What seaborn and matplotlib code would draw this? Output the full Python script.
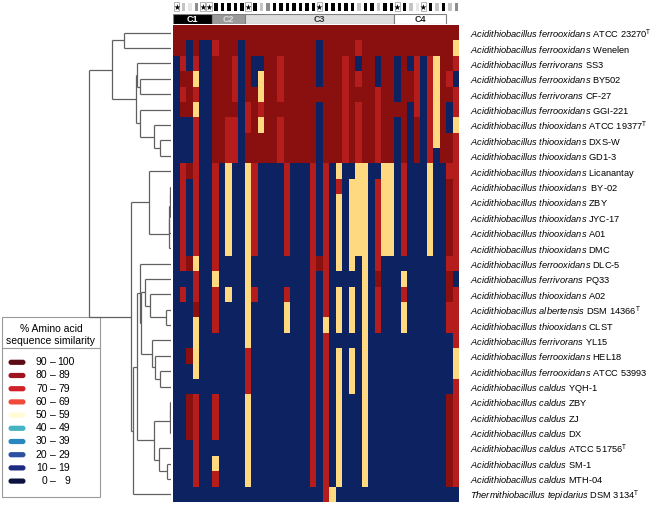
import numpy as np
import pandas as pd
import matplotlib
matplotlib.use("Agg")
import matplotlib.pyplot as plt
import seaborn as sns
from matplotlib.colors import ListedColormap, BoundaryNorm
from matplotlib.patches import Rectangle, FancyBboxPatch

# ---------------- data ----------------
species = (["Acidithiobacillus ferrooxidans"] * 2 +
           ["Acidithiobacillus ferrivorans", "Acidithiobacillus ferrooxidans",
            "Acidithiobacillus ferrivorans", "Acidithiobacillus ferrooxidans"] +
           ["Acidithiobacillus thiooxidans"] * 9 +
           ["Acidithiobacillus ferrooxidans", "Acidithiobacillus ferrivorans",
            "Acidithiobacillus thiooxidans", "Acidithiobacillus albertensis",
            "Acidithiobacillus thiooxidans", "Acidithiobacillus ferrivorans",
            "Acidithiobacillus ferrooxidans", "Acidithiobacillus ferrooxidans"] +
           ["Acidithiobacillus caldus"] * 7 +
           ["Thermithiobacillus tepidarius"])
strains = ["ATCC 23270", "Wenelen", "SS3", "BY502", "CF-27", "GGI-221",
           "ATCC 19377", "DXS-W", "GD1-3", "Licanantay", " BY-02", "ZBY",
           "JYC-17", "A01", "DMC", "DLC-5", "PQ33", "A02", "DSM 14366", "CLST",
           "YL15", "HEL18", "ATCC 53993", "YQH-1", "ZBY", "ZJ", "DX",
           "ATCC 51756", "SM-1", "MTH-04", "DSM 3134"]
type_strain = [1, 0, 0, 0, 0, 0, 1, 0, 0, 0, 0, 0, 0, 0, 0, 0, 0, 0, 1, 0,
               0, 0, 0, 0, 0, 0, 0, 1, 0, 0, 1]

# similarity class per protein column (rows top->bottom); D=90-100, R=80-89, Y=50-59, B=10-19
column_codes = [
    "DD" + "B" * 29,
    "DDRDRD" + "BBB" + "RRRRRRR" + "B" + "R" + "B" * 13,
    "DBBDDD" + "BBB" + "D" + "BBBBB" + "D" + "BBBBB" + "D" + "BB" + "DDD" + "BBBB",
    "DDRYRY" + "R" * 9 + "Y" + "RR" + "D" + "YYYY" + "B" + "R" * 6 + "B",
    "D" + "B" * 30,
    "D" + "B" * 30,
    "DR" + "D" * 7 + "R" * 7 + "Y" + "RRR" + "BBBB" + "RRR" + "B" + "Y" + "R" + "B",
    "D" * 9 + "B" * 22,
    "D" * 6 + "RRR" + "Y" * 6 + "BB" + "Y" + "B" * 13,
    "DD" + "RRR" + "D" + "RRR" + "B" * 22,
    "D" + "B" * 30,
    "D" * 5 + "RR" + "DD" + "Y" * 12 + "RRR" + "Y" * 6 + "B",
    "DD" + "BB" + "D" * 5 + "R" * 6 + "BB" + "R" + "B" * 13,
    "DD" + "B" + "YY" + "R" + "Y" + "DD" + "B" * 22,
    "D" * 9 + "B" * 22,
    "D" * 9 + "B" * 22,
    "DD" + "RRR" + "D" + "RRR" + "B" * 22,
    "D" * 9 + "R" * 6 + "BB" + "R" + "YY" + "B" * 11,
    "D" * 9 + "B" * 22,
    "D" * 9 + "B" * 22,
    "D" * 9 + "B" * 22,
    "D" * 9 + "R" * 21 + "B",
    "D" + "BBB" + "D" + "B" * 10 + "D" + "B" * 15,
    "D" * 9 + "R" * 10 + "Y" + "R" * 11,
    "D" * 9 + "B" * 21 + "Y",
    "D" * 9 + "Y" + "R" + "YYYYY" + "B" + "YYY" + "B" + "Y" * 9 + "B",
    "DD" + "R" * 7 + "B" * 22,
    "D" * 9 + "B" + "Y" * 6 + "B" + "YYY" + "B" + "YYY" + "B" * 7,
    "DRBRD" + "RRRR" + "Y" * 6 + "B" * 16,
    "D" * 9 + "Y" * 21 + "B",
    "D" * 9 + "B" * 22,
    "DD" + "BB" + "R" * 5 + "B" + "R" * 6 + "D" + "RRR" + "B" * 11,
    "D" * 9 + "Y" * 6 + "B" * 16,
    "D" * 9 + "Y" * 6 + "B" * 16,
    "DD" + "BBB" + "D" + "BBB" + "B" * 22,
    "D" * 9 + "R" * 6 + "B" + "Y" + "R" + "YY" + "B" * 11,
    "DD" + "B" + "DD" + "BBBB" + "B" * 22,
    "DD" + "RRRR" + "DDD" + "B" * 22,
    "DD" + "B" * 29,
    "DD" + "R" * 7 + "Y" * 6 + "B" * 16,
    "DD" + "Y" * 6 + "B" + "B" * 22,
    "D" * 9 + "B" * 22,
    "DDDRD" + "BB" + "DD" + "R" + "D" * 5 + "R" + "DD" + "RR" + "BBBB" + "D" * 6 + "B",
    "DYRB" + "RR" + "Y" + "R" * 9 + "B" + "RRRR" + "YY" + "R" * 7 + "B",
]
code_value = {"D": 95, "R": 85, "Y": 55, "B": 15}

# top strip above the columns (S = star)
strip_codes = "SLWGSS" + "KKKKK" + "S" + "K" + "LG" + "KKKKKKK" + "S" + "KKKKK" + "L" + "KK" + "L" + "KK" + "S" + "K" + "LW" + "S" + "K" + "L" + "K" + "LG"
groups = ["C1", "C2", "C3", "C4"]
group_start = [0, 6, 11, 34]
group_end = [6, 11, 34, 42]

# dendrogram merges: (name, child_a, child_b, height)
tree_merges = [
    ("A", 0, 1, 0.467),
    ("s78", 7, 8, 0.107),
    ("s678", 6, "s78", 0.167),
    ("s5678", 5, "s678", 0.307),
    ("s34", 3, 4, 0.307),
    ("s234", 2, "s34", 0.34),
    ("s2_8", "s234", "s5678", 0.35),
    ("TOP", "A", "s2_8", 0.59),
    ("p10_11", 10, 11, 0.012),
    ("p10_12", "p10_11", 12, 0.014),
    ("p10_13", "p10_12", 13, 0.016),
    ("p10_14", "p10_13", 14, 0.018),
    ("B1", 9, "p10_14", 0.224),
    ("s1819", 18, 19, 0.047),
    ("s17", 17, "s1819", 0.214),
    ("s16", 16, "s17", 0.257),
    ("t2223", 22, 23, 0.107),
    ("t21", 21, "t2223", 0.157),
    ("t20", 20, "t21", 0.19),
    ("U", "s16", "t20", 0.30),
    ("B2", 15, "U", 0.307),
    ("c2425", 24, 25, 0.008),
    ("c24_26", "c2425", 26, 0.012),
    ("c2829", 28, 29, 0.04),
    ("c27", 27, "c2829", 0.124),
    ("C", "c24_26", "c27", 0.174),
    ("V", "B2", "C", 0.34),
    ("X", "V", 30, 0.377),
    ("N", "B1", "X", 0.397),
    ("ROOT", "TOP", "N", 0.824),
]

legend_low = [90, 80, 70, 60, 50, 40, 30, 20, 10, 0]
legend_high = [100, 89, 79, 69, 59, 49, 39, 29, 19, 9]
legend_colors = ["#5C0A14", "#9E1520", "#D2202A", "#F04A3A", "#FFFBD5",
                 "#45B3C2", "#2A86BE", "#2A52A0", "#1C2A80", "#0B1240"]
# colours of the ten bins (0-9 ... 90-100) as rendered in the heat map
heat_colors = ["#0B1240", "#0D2260", "#2A52A0", "#2A86BE", "#45B3C2",
               "#FFD97F", "#F04A3A", "#D2202A", "#B51C1C", "#8A1010"]

# ---------------- figure ----------------
plt.rcParams['font.family'] = ['Liberation Sans', 'DejaVu Sans']
plt.rcParams['mathtext.fontset'] = 'custom'
plt.rcParams['mathtext.it'] = 'Liberation Sans:italic'
plt.rcParams['mathtext.rm'] = 'Liberation Sans'

W, H = 666, 505
fig = plt.figure(figsize=(W / 100, H / 100), dpi=100)


def px_axes(x0, y0, x1, y1):
    return fig.add_axes([x0 / W, 1 - y1 / H, (x1 - x0) / W, (y1 - y0) / H])


n_rows = len(strains)
n_cols = len(column_codes)
matrix = np.array([[code_value[column_codes[c][r]] for c in range(n_cols)]
                   for r in range(n_rows)])


def make_label(sp, st, t):
    s = r"$\mathit{" + sp.replace(" ", r"\ ") + "}$ " + st
    if t:
        s += r"$^{\mathrm{T}}$"
    return s


labels = [make_label(a, b, c) for a, b, c in zip(species, strains, type_strain)]
df = pd.DataFrame(matrix, index=labels, columns=[f"P{i+1}" for i in range(n_cols)])

hx0, hx1, hy0, hy1 = 173.3, 459.0, 25.0, 502.0
hax = px_axes(hx0, hy0, hx1, hy1)
cmap = ListedColormap(heat_colors)
norm = BoundaryNorm(list(range(0, 100, 10)) + [100.5], cmap.N)
sns.heatmap(df, ax=hax, cmap=cmap, norm=norm, cbar=False,
            xticklabels=False, yticklabels=labels)
hax.yaxis.tick_right()
hax.tick_params(axis='y', length=0, pad=8, labelsize=6.7)
for t in hax.get_yticklabels():
    t.set_rotation(0)
hax.set_ylabel("")
hax.set_xlabel("")

# top strip with stars
strip_map = {"S": 0, "K": 1, "G": 2, "L": 3, "W": 4}
strip_colors = ["#ffffff", "#000000", "#8c8c8c", "#c4c4c4", "#e6e6e6"]
sax = px_axes(hx0, 1, hx1, 12)
strip_df = pd.DataFrame([[strip_map[c] for c in strip_codes]])
sns.heatmap(strip_df, ax=sax, cmap=ListedColormap(strip_colors), vmin=-0.5, vmax=4.5,
            cbar=False, xticklabels=False, yticklabels=False,
            linewidths=0.8, linecolor="white")
for i, c in enumerate(strip_codes):
    if c == "S":
        sax.add_patch(Rectangle((i + 0.08, 0.05), 0.84, 0.9, fill=False,
                                edgecolor="#999999", lw=0.5))
        sax.text(i + 0.5, 0.55, "★", ha="center", va="center", fontsize=5.5,
                 family=["DejaVu Sans"], color="black")
sax.set_xlim(0, n_cols)

# group bar
gax = px_axes(hx0, 14, hx1, 24)
gax.set_xlim(0, n_cols)
gax.set_ylim(0, 1)
gax.axis("off")
gfill = ["#000000", "#9a9a9a", "#dedede", "#ffffff"]
gtext = ["#ffffff", "#dcdcdc", "#333333", "#222222"]
for g, a, b, fc, tc in zip(groups, group_start, group_end, gfill, gtext):
    gax.add_patch(Rectangle((a, 0), b - a, 1, facecolor=fc, edgecolor="#808080", lw=0.8))
    gax.text((a + b) / 2, 0.45, g, ha="center", va="center", fontsize=6.5,
             fontweight="bold", color=tc)

# dendrogram
dax = px_axes(80, hy0, 171, hy1)
dax.set_xlim(0.91, 0)
dax.set_ylim(n_rows, 0)
dax.axis("off")
pos = {i: i + 0.5 for i in range(n_rows)}
hgt = {i: 0.0 for i in range(n_rows)}
lc = "#606060"
for name, a, b, h in tree_merges:
    ya, yb = pos[a], pos[b]
    dax.plot([hgt[a], h], [ya, ya], color=lc, lw=0.9, solid_capstyle="butt")
    dax.plot([hgt[b], h], [yb, yb], color=lc, lw=0.9, solid_capstyle="butt")
    dax.plot([h, h], [ya, yb], color=lc, lw=0.9, solid_capstyle="butt")
    pos[name] = (ya + yb) / 2
    hgt[name] = h

# legend
lax = fig.add_axes([0, 0, 1, 1], zorder=-1)
lax.set_xlim(0, W)
lax.set_ylim(H, 0)
lax.axis("off")
lax.add_patch(Rectangle((2, 317), 98, 180, fill=False, edgecolor="#9a9a9a", lw=0.8))
lax.plot([2, 100], [348, 348], color="#9a9a9a", lw=0.8)
lax.text(51, 328.5, "% Amino acid", ha="center", va="center", fontsize=7.5)
lax.text(51, 341, "sequence similarity", ha="center", va="center", fontsize=7.5)
for k, (lo, hi, col) in enumerate(zip(legend_low, legend_high, legend_colors)):
    y = 362.3 + k * 13.2
    lax.add_patch(FancyBboxPatch((8.5, y - 2.6), 17, 5.2,
                                 boxstyle="round,pad=0,rounding_size=2.6",
                                 facecolor=col, edgecolor="none"))
    lax.text(47.5, y, str(lo), ha="right", va="center", fontsize=7.5)
    lax.text(52.5, y, "–", ha="center", va="center", fontsize=7.5)
    if hi >= 100:
        lax.text(57.5, y, str(hi), ha="left", va="center", fontsize=7.5)
    else:
        lax.text(70, y, str(hi), ha="right", va="center", fontsize=7.5)

fig.savefig("out.png", dpi=100)
